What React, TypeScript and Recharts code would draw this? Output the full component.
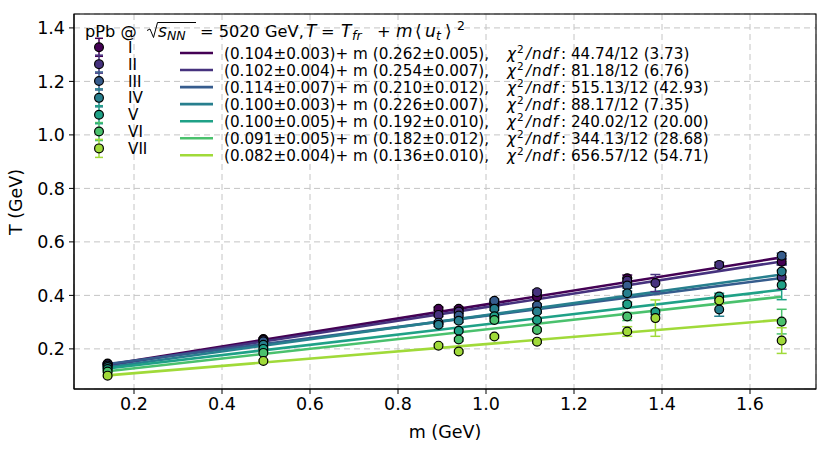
import React from 'react';
import { ComposedChart, Scatter, Line, XAxis, YAxis, CartesianGrid, ErrorBar } from 'recharts';

const classNames = ['I', 'II', 'III', 'IV', 'V', 'VI', 'VII'];
const colors = ['#440154', '#46327e', '#365c8d', '#277f8e', '#1fa187', '#4ac16d', '#a0da39'];

// particle masses (GeV): pi, K, K*, p, phi, Lambda, Xi, Sigma*, Xi*, Omega
const masses = [0.14, 0.494, 0.892, 0.938, 1.019, 1.116, 1.321, 1.385, 1.53, 1.672];

const tI = [0.145, 0.237, 0.35, 0.35, 0.372, 0.395, 0.464, null, null, 0.526];
const tII = [0.143, 0.233, 0.327, 0.34, 0.365, 0.412, 0.455, 0.446, 0.514, 0.468];
const tIII = [0.138, 0.228, 0.298, 0.325, 0.38, 0.362, 0.437, null, null, 0.548];
const tIV = [0.132, 0.215, 0.29, 0.305, 0.35, 0.34, 0.408, null, 0.347, 0.489];
const tV = [0.125, 0.2, null, 0.268, 0.322, 0.308, 0.367, 0.338, 0.396, 0.439];
const tVI = [0.115, 0.185, null, 0.235, 0.308, 0.271, 0.321, null, null, 0.302];
const tVII = [0.1, 0.155, 0.212, 0.19, 0.246, 0.227, 0.265, 0.315, 0.381, 0.231];

const errI = [0.003, 0.004, 0.006, 0.006, 0.006, 0.006, 0.012, null, null, 0.01];
const errII = [0.003, 0.004, 0.006, 0.006, 0.006, 0.008, 0.01, 0.032, 0.01, 0.045];
const errIII = [0.003, 0.004, 0.006, 0.006, 0.006, 0.006, 0.01, null, null, 0.01];
const errIV = [0.003, 0.004, 0.006, 0.006, 0.006, 0.006, 0.008, null, 0.025, 0.03];
const errV = [0.003, 0.004, null, 0.006, 0.006, 0.006, 0.008, 0.01, 0.012, 0.055];
const errVI = [0.003, 0.004, null, 0.006, 0.006, 0.006, 0.015, null, null, 0.046];
const errVII = [0.003, 0.004, 0.006, 0.006, 0.006, 0.006, 0.018, 0.068, 0.012, 0.048];

const temps = [tI, tII, tIII, tIV, tV, tVI, tVII];
const errs = [errI, errII, errIII, errIV, errV, errVI, errVII];

// fit results
const tfr = [0.104, 0.102, 0.114, 0.1, 0.1, 0.091, 0.082];
const tfrErr = [0.003, 0.004, 0.007, 0.003, 0.005, 0.005, 0.004];
const slope = [0.262, 0.254, 0.21, 0.226, 0.192, 0.182, 0.136];
const slopeErr = [0.005, 0.007, 0.012, 0.007, 0.01, 0.012, 0.01];
const chi2 = ['44.74', '81.18', '515.13', '88.17', '240.02', '344.13', '656.57'];
const ndf = 12;
const chi2Red = ['3.73', '6.76', '42.93', '7.35', '20.00', '28.68', '54.71'];

// fit line end points (m = 0.14 and m = 1.672)
const fitM = [0.14, 1.672];
const fitStart = [0.1407, 0.1376, 0.1434, 0.1316, 0.1269, 0.1165, 0.101];
const fitEnd = [0.542, 0.527, 0.465, 0.478, 0.421, 0.395, 0.309];

const xTicks = [0.2, 0.4, 0.6, 0.8, 1.0, 1.2, 1.4, 1.6];
const yTicks = [0.2, 0.4, 0.6, 0.8, 1.0, 1.2, 1.4];

const FONT = 'DejaVu Sans, sans-serif';

const scatterData = temps.map((arr, ci) =>
  masses
    .map((m, i) => ({ x: m, y: arr[i], err: errs[ci][i] }))
    .filter((d) => d.y !== null)
);

const lineData = fitStart.map((s, ci) => [
  { x: fitM[0], y: s },
  { x: fitM[1], y: fitEnd[ci] },
]);

const makeShape = (color: string) => (props: any) => {
  const { cx, cy } = props;
  if (cx == null || cy == null) return <g />;
  return <circle cx={cx} cy={cy} r={4.4} fill={color} stroke="#000" strokeWidth={1.2} />;
};

const tickStyle = { fontFamily: FONT, fontSize: 17.5, fill: '#000' };

function Overlay() {
  const mRow0 = 47.3;
  const mStep = 16.85;
  const lRow0 = 53;
  const lStep = 17.05;
  const ty = 36.5;
  const sub = ty + 3;
  const sup = ty - 7;
  return (
    <svg
      width={830}
      height={452}
      style={{ position: 'absolute', left: 0, top: 0, pointerEvents: 'none' }}
      fontFamily={FONT}
    >
      {/* plot frame */}
      <rect x={74} y={14} width={742} height={375} fill="none" stroke="#000" strokeWidth={1.1} />

      {/* title */}
      <path d="M147,30.5 L150,29 L153.5,37.5 L157.5,22.5 L196,22.5" stroke="#000" strokeWidth={1} fill="none" />
      <text x={85} y={ty} fontSize={16.2} fill="#000">
        <tspan x={85} y={ty}>pPb @</tspan>
        <tspan x={158} y={ty} fontStyle="italic" fontSize={17}>s</tspan>
        <tspan x={167} y={sub} fontStyle="italic" fontSize={12.5}>NN</tspan>
        <tspan x={200} y={ty}>= 5020 GeV,</tspan>
        <tspan x={306} y={ty} fontStyle="italic" fontSize={17}>T</tspan>
        <tspan x={321} y={ty}>=</tspan>
        <tspan x={341} y={ty} fontStyle="italic" fontSize={17}>T</tspan>
        <tspan x={352} y={sub} fontStyle="italic" fontSize={12.5}>fr</tspan>
        <tspan x={377} y={ty}>+</tspan>
        <tspan x={396} y={ty} fontStyle="italic" fontSize={17}>m</tspan>
        <tspan x={415} y={ty} fontSize={17}>⟨</tspan>
        <tspan x={425} y={ty} fontStyle="italic" fontSize={17}>u</tspan>
        <tspan x={436} y={sub} fontStyle="italic" fontSize={12.5}>t</tspan>
        <tspan x={445} y={ty} fontSize={17}>⟩</tspan>
        <tspan x={457} y={sup} fontSize={12.5}>2</tspan>
      </text>

      {/* marker legend */}
      {classNames.map((name, i) => {
        const y = mRow0 + i * mStep;
        const c = colors[i];
        return (
          <g key={'m' + i}>
            <line x1={99} x2={99} y1={y - 9} y2={y + 9} stroke={c} strokeWidth={1.5} />
            <line x1={95} x2={103} y1={y - 9} y2={y - 9} stroke={c} strokeWidth={1.5} />
            <line x1={95} x2={103} y1={y + 9} y2={y + 9} stroke={c} strokeWidth={1.5} />
            <circle cx={99} cy={y} r={4.4} fill={c} stroke="#000" strokeWidth={1.2} />
            <text x={128} y={y + 5.6} fontSize={15.2} fill="#000">{name}</text>
          </g>
        );
      })}

      {/* line legend */}
      {classNames.map((name, i) => {
        const y = lRow0 + i * lStep;
        const c = colors[i];
        const base = y + 5.5;
        return (
          <g key={'l' + i}>
            <line x1={180} x2={213} y1={y} y2={y} stroke={c} strokeWidth={2.6} />
            <text x={224} y={base} fontSize={15.2} fill="#000">
              <tspan x={224} y={base}>
                {'(' + tfr[i].toFixed(3) + '±' + tfrErr[i].toFixed(3) + ')+ m (' +
                  slope[i].toFixed(3) + '±' + slopeErr[i].toFixed(3) + '),'}
              </tspan>
              <tspan x={507} y={base} fontStyle="italic">χ</tspan>
              <tspan x={517} y={y - 0.5} fontSize={10.5}>2</tspan>
              <tspan x={526} y={base} fontStyle="italic" letterSpacing={0.8}>/ndf</tspan>
              <tspan x={561} y={base}>
                {': ' + chi2[i] + '/' + ndf + ' (' + chi2Red[i] + ')'}
              </tspan>
            </text>
          </g>
        );
      })}

      {/* axis labels */}
      <text x={445} y={438} fontSize={17.5} textAnchor="middle" fill="#000">m (GeV)</text>
      <text
        x={22}
        y={202}
        fontSize={17.5}
        textAnchor="middle"
        fill="#000"
        transform="rotate(-90 22 202)"
      >
        T (GeV)
      </text>
    </svg>
  );
}

export default function App() {
  return (
    <div style={{ position: 'absolute', left: 0, top: 0, width: 830, height: 452, background: '#fff' }}>
      <ComposedChart
        width={830}
        height={452}
        margin={{ top: 14, right: 14, bottom: 33, left: 14 }}
      >
        <CartesianGrid
          xAxisId="main"
          yAxisId="main"
          stroke="#c4c4c4"
          strokeDasharray="6 4"
          strokeWidth={1}
        />
        <XAxis
          xAxisId="main"
          dataKey="x"
          type="number"
          domain={[0.0636, 1.75]}
          ticks={xTicks}
          tickFormatter={(v: number) => v.toFixed(1)}
          height={30}
          tickSize={5}
          tickMargin={4}
          tick={tickStyle}
          stroke="#000"
          allowDataOverflow
        />
        <YAxis
          yAxisId="main"
          type="number"
          domain={[0.05, 1.452]}
          ticks={yTicks}
          tickFormatter={(v: number) => v.toFixed(1)}
          width={60}
          tickSize={5}
          tickMargin={4}
          tick={tickStyle}
          stroke="#000"
          allowDataOverflow
        />
        {lineData.map((d, i) => (
          <Line
            key={'fit' + i}
            xAxisId="main"
            yAxisId="main"
            data={d}
            dataKey="y"
            type="linear"
            stroke={colors[i]}
            strokeWidth={2.6}
            dot={false}
            activeDot={false}
            isAnimationActive={false}
          />
        ))}
        {scatterData.map((d, i) => (
          <Scatter
            key={'sc' + i}
            xAxisId="main"
            yAxisId="main"
            data={d}
            dataKey="y"
            shape={makeShape(colors[i])}
            isAnimationActive={false}
          >
            <ErrorBar dataKey="err" direction="y" width={5} stroke={colors[i]} strokeWidth={1.5} />
          </Scatter>
        ))}
      </ComposedChart>
      <Overlay />
    </div>
  );
}
